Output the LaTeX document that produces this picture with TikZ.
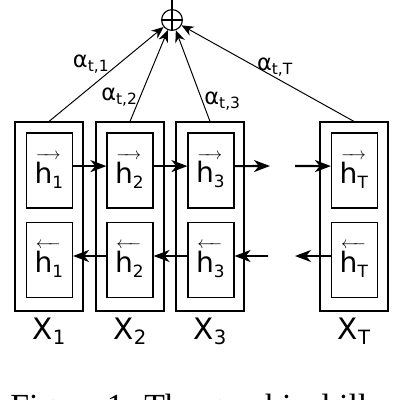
\documentclass[tikz,border=0pt]{standalone}
\usepackage{amsmath}
\usepackage{fontspec}
\setmainfont{DejaVu Sans}
\newfontfamily\capfont{Liberation Serif}
\usetikzlibrary{positioning,arrows.meta}
\newcommand{\lowsub}[2]{\raisebox{-#1}{\fontsize{12}{12}\selectfont #2}}
\newcommand{\hfwd}[1]{{\fontsize{12}{12}\selectfont$\overrightarrow{\rule{0pt}{17pt}\kern-1pt\text{\fontsize{20}{22}\selectfont h}\kern6pt}$}\kern-6pt\lowsub{3.5pt}{#1}}
\newcommand{\hbwd}[1]{{\fontsize{12}{12}\selectfont$\overleftarrow{\rule{0pt}{17pt}\kern-1pt\text{\fontsize{20}{22}\selectfont h}\kern6pt}$}\kern-6pt\lowsub{3.5pt}{#1}}
\newcommand{\attw}[1]{α\raisebox{-3pt}{\fontsize{11}{11}\selectfont t,#1}}

\begin{document}
\begin{tikzpicture}[x=0.25mm, y=-0.25mm,
		every node/.style={inner sep=0pt},
		outerbox/.style={draw, line width=0.8pt, minimum width=17mm, minimum height=47.25mm},
		innerbox/.style={draw, line width=0.8pt, minimum width=11.5mm, minimum height=18.75mm,
			font=\fontsize{20}{22}\selectfont},
		inputlabel/.style={font=\fontsize{21}{24}\selectfont},
		weight/.style={font=\fontsize{16}{18}\selectfont, inner sep=2pt},
		fwd/.style={-{Stealth[length=4mm,width=3mm,inset=1.2mm]}, line width=1.5pt},
		bwd/.style={-{Stealth[length=4mm,width=3mm,inset=1.2mm]}, line width=1.1pt},
		attn/.style={-{Stealth[length=3mm,width=2.5mm]}, line width=0.7pt}]
		\useasboundingbox (0,0) rectangle (400,400);
		%
		\node[outerbox] (x1) at (49,216.5) {};
		\node[innerbox] (f1) at (49.5,170.5) {\hfwd{1}};
		\node[innerbox] (b1) at (49.5,260) {\hbwd{1}};
		\node[inputlabel, below=1.5mm of x1] (l1) {X\lowsub{4pt}{\fontsize{14}{14}\selectfont 1}};
		%
		\node[outerbox] (x2) at (130,216.5) {};
		\node[innerbox] (f2) at (130,170.5) {\hfwd{2}};
		\node[innerbox] (b2) at (130,260) {\hbwd{2}};
		\node[inputlabel, below=1.5mm of x2] (l2) {X\lowsub{4pt}{\fontsize{14}{14}\selectfont 2}};
		%
		\node[outerbox] (x3) at (210,216.5) {};
		\node[innerbox] (f3) at (211,170.5) {\hfwd{3}};
		\node[innerbox] (b3) at (211,260) {\hbwd{3}};
		\node[inputlabel, below=1.5mm of x3] (l3) {X\lowsub{4pt}{\fontsize{14}{14}\selectfont 3}};
		%
		\node[outerbox] (xT) at (354,216.5) {};
		\node[innerbox] (fT) at (354.5,170.5) {\hfwd{T}};
		\node[innerbox] (bT) at (354.5,260) {\hbwd{T}};
		\node[inputlabel, below=1.5mm of xT] (lT) {X\lowsub{4pt}{\fontsize{14}{14}\selectfont T}};
		%
		\coordinate (f3end) at (270,166);
		\coordinate (fTstart) at (295,166);
		\coordinate (b3start) at (268,256);
		\coordinate (bTend) at (295,256);
		\draw[fwd] ([yshift=1.1mm]f1.east) -- ([yshift=1.1mm]f2.west);
		\draw[fwd] ([yshift=1.1mm]f2.east) -- ([yshift=1.1mm]f3.west);
		\draw[fwd] ([yshift=1.1mm]f3.east) -- (f3end);
		\draw[fwd] (fTstart) -- ([yshift=1.1mm]fT.west);
		\draw[bwd] ([yshift=1mm]b2.west) -- ([yshift=1mm]b1.east);
		\draw[bwd] ([yshift=1mm]b3.west) -- ([yshift=1mm]b2.east);
		\draw[bwd] (b3start) -- ([yshift=1mm]b3.east);
		\draw[bwd] ([yshift=1mm]bT.west) -- (bTend);
		%
		\node[draw, circle, minimum size=5.2mm, line width=0.8pt,
			path picture={\draw (path picture bounding box.north) -- (path picture bounding box.south)
				(path picture bounding box.west) -- (path picture bounding box.east);}] (sum) at (172,20) {};
		\coordinate (out) at (172,0);
		\draw[line width=0.8pt] (sum) -- (out);
		\draw[attn] (x1.north) -- node[weight, pos=.5, above left, xshift=4pt, yshift=-2pt] {\attw{1}} (sum);
		\draw[attn] (x2.north) -- node[weight, pos=.27, left] {\attw{2}} (sum);
		\draw[attn] (x3.north) -- node[weight, pos=.22, right, inner sep=1pt] {\attw{3}} (sum);
		\draw[attn] (xT.north) -- node[weight, pos=.46, above, yshift=-2pt] {\attw{T}} (sum);
		%
		\node[anchor=base west, font=\capfont\fontsize{24}{28}\selectfont] (cap) at (10,417)
			{Figure 1: The graphical illustration};
	\end{tikzpicture}
\end{document}
